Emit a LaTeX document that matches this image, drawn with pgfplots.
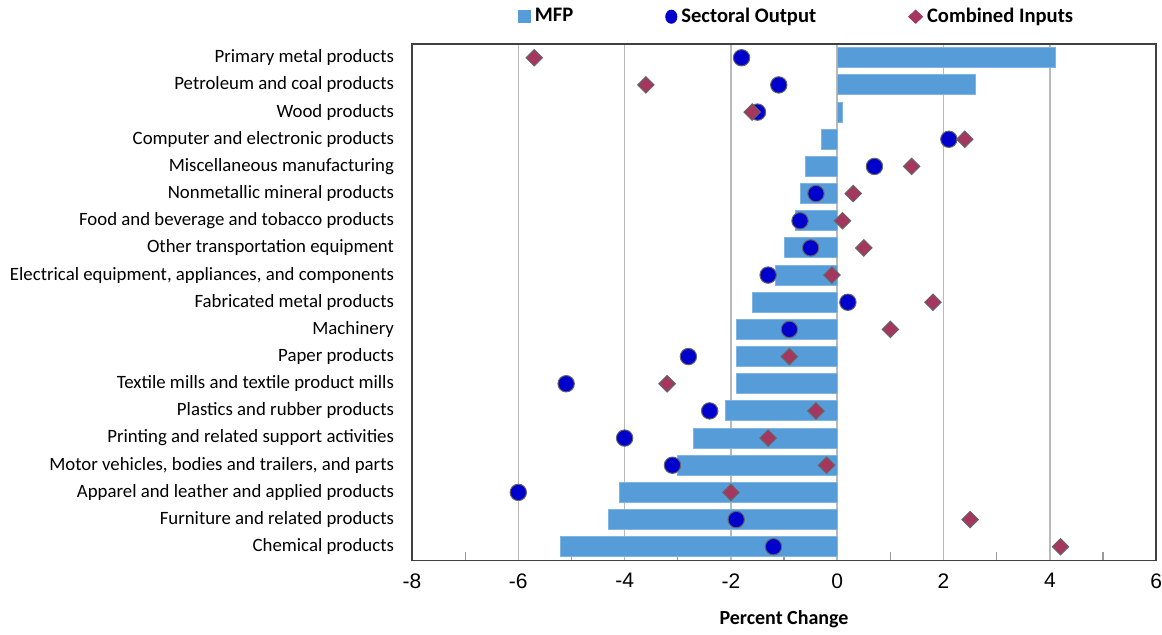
\documentclass[border=0pt]{standalone}
\usepackage{pgfplots}
\pgfplotsset{compat=1.18}
\usepackage{fontspec}
\setmainfont{Carlito}
\newfontfamily\arialfont{Liberation Sans}

\definecolor{mfpblue}{RGB}{86,156,216}
\definecolor{dotblue}{RGB}{0,0,205}
\definecolor{diared}{RGB}{165,55,95}

% idx: row from the top; mfp, output, inputs in percent
\pgfplotstableread{
idx mfp out inp
0   4.1 -1.8 -5.7
1   2.6 -1.1 -3.6
2   0.1 -1.5 -1.6
3  -0.3  2.1  2.4
4  -0.6  0.7  1.4
5  -0.7 -0.4  0.3
6  -0.78 -0.7 0.1
7  -1.0 -0.5  0.5
8  -1.17 -1.3 -0.1
9  -1.6  0.2  1.8
10 -1.9 -0.9  1.0
11 -1.9 -2.8 -0.9
12 -1.9 -5.1 -3.2
13 -2.1 -2.4 -0.4
14 -2.7 -4.0 -1.3
15 -3.0 -3.1 -0.2
16 -4.1 -6.0 -2.0
17 -4.3 -1.9  2.5
18 -5.2 -1.2  4.2
}\data

\begin{document}
\begin{tikzpicture}
\begin{axis}[
    scale only axis,
    width=372pt, height=258pt,
    xmin=-8, xmax=6,
    ymin=-0.5, ymax=18.5,
    y dir=reverse,
    xtick={-8,-6,-4,-2,0,2,4,6},
    xticklabels={-8,-6,-4,-2,0,2,4,6},
    minor x tick num=1,
    xtick pos=lower,
    tick align=inside,
    major x tick style={draw=none},
    minor x tick style={draw=gray!80, line width=0.6pt},
    minor tick length=4pt,
    xticklabel style={font=\arialfont\fontsize{10.5}{12.5}\selectfont, yshift=-3pt, inner xsep=0pt},
    ytick={0,...,18},
    yticklabels={
        {Primary metal products},
        {Petroleum and coal products},
        {Wood products},
        {Computer and electronic products},
        {Miscellaneous manufacturing},
        {Nonmetallic mineral products},
        {Food and beverage and tobacco products},
        {Other transportation equipment},
        {Electrical equipment, appliances, and components},
        {Fabricated metal products},
        {Machinery},
        {Paper products},
        {Textile mills and textile product mills},
        {Plastics and rubber products},
        {Printing and related support activities},
        {Motor vehicles, bodies and trailers, and parts},
        {Apparel and leather and applied products},
        {Furniture and related products},
        {Chemical products}},
    ytick style={draw=none},
    yticklabel style={font=\fontsize{9.4}{11}\selectfont, inner xsep=5pt, xshift=-3.8pt},
    xmajorgrids=true,
    grid style={gray!55, line width=0.8pt},
    axis line style={black!75, line width=0.7pt},
    xlabel={\textbf{Percent Change}},
    xlabel style={font=\fontsize{10}{12}\selectfont, yshift=-4pt},
    legend columns=3,
    legend style={at={(0.518,1.02)}, anchor=south, draw=none,
        font=\bfseries\fontsize{10.3}{12}\selectfont,
        /tikz/column 2/.style={column sep=44pt},
        /tikz/column 4/.style={column sep=44pt}},
]
\addplot[xbar, bar width=10pt, fill=mfpblue, draw=mfpblue!75!white, line width=0.5pt,
    legend image code/.code={\fill[mfpblue] (0pt,-3pt) rectangle (6pt,3pt);}]
    table[x=mfp, y=idx]{\data};
\addlegendentry{MFP}
\addplot[only marks, mark=*, mark size=4.1pt,
    mark options={fill=dotblue, draw=black!60, line width=0.5pt},
    legend image code/.code={\fill[dotblue] (2.8pt,0pt) ellipse (2.8pt and 3.3pt);}]
    table[x=out, y=idx]{\data};
\addlegendentry{Sectoral Output}
\addplot[only marks, mark=square*, mark size=2.9pt,
    mark options={rotate=45, fill=diared, draw=black!60, line width=0.5pt},
    legend image code/.code={\fill[diared] (3.5pt,-3.3pt) -- (7pt,0pt) -- (3.5pt,3.3pt) -- (0pt,0pt) -- cycle;}]
    table[x=inp, y=idx]{\data};
\addlegendentry{Combined Inputs}
\end{axis}
\end{tikzpicture}
\end{document}
